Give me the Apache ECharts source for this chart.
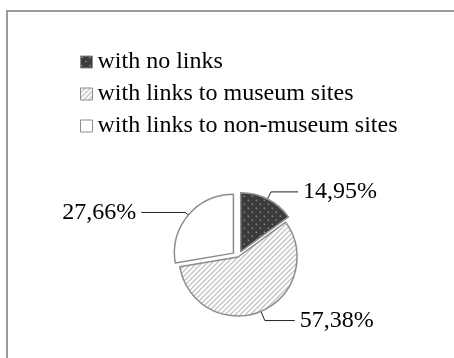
<!DOCTYPE html>
<html>
<head>
<meta charset="utf-8">
<script src="https://cdn.jsdelivr.net/npm/echarts@6/dist/echarts.min.js"></script>
<style>
  html, body { margin: 0; padding: 0; background: #fff; }
  #chart { width: 454px; height: 358px; }
</style>
</head>
<body>
<div id="chart"></div>
<script>
const categories = ['with no links', 'with links to museum sites', 'with links to non-museum sites'];
const shares = [14.95, 57.38, 27.66];
const exploded = [true, false, true];
// leader line lengths per slice: [length, length2]
const leaders = [[8, 27], [10, 30], [4, 44]];

const font = '"Liberation Serif", "Times New Roman", serif';

function dotPattern() {
  const c = document.createElement('canvas');
  c.width = 8; c.height = 8;
  const g = c.getContext('2d');
  g.fillStyle = '#3c3c3c';
  g.fillRect(0, 0, 8, 8);
  g.fillStyle = '#e0e0e0';
  g.fillRect(1, 1, 1, 1);
  g.fillRect(5, 5, 1, 1);
  return c;
}

function hatchPattern() {
  const n = 5;
  const c = document.createElement('canvas');
  c.width = n; c.height = n;
  const g = c.getContext('2d');
  g.fillStyle = '#ffffff';
  g.fillRect(0, 0, n, n);
  g.strokeStyle = '#c4c4c4';
  g.lineWidth = 1.4;
  g.beginPath();
  g.moveTo(0, n); g.lineTo(n, 0);
  g.moveTo(-1, 1); g.lineTo(1, -1);
  g.moveTo(n - 1, n + 1); g.lineTo(n + 1, n - 1);
  g.stroke();
  return c;
}

const fills = [
  { image: dotPattern(), repeat: 'repeat' },
  { image: hatchPattern(), repeat: 'repeat' },
  '#ffffff'
];

const chart = echarts.init(document.getElementById('chart'));

chart.setOption({
  backgroundColor: '#fff',
  animation: false,
  graphic: [{
    type: 'rect',
    shape: { x: 7, y: 11, width: 520, height: 420 },
    style: { fill: 'none', stroke: '#9a9a9a', lineWidth: 2 },
    silent: true
  }],
  legend: {
    orient: 'vertical',
    left: 75,
    top: 45,
    itemWidth: 12,
    itemHeight: 12,
    itemGap: 8,
    icon: 'rect',
    selectedMode: false,
    itemStyle: { borderColor: '#8c8c8c', borderWidth: 1 },
    textStyle: { fontFamily: font, fontSize: 24, lineHeight: 24, color: '#000' },
    data: categories
  },
  series: [{
    type: 'pie',
    center: [238, 257],
    radius: 59,
    startAngle: 90,
    clockwise: true,
    selectedMode: 'multiple',
    selectedOffset: 6,
    emphasis: { disabled: true },
    itemStyle: { borderColor: '#8c8c8c', borderWidth: 1.5 },
    label: {
      show: true,
      position: 'outside',
      fontFamily: font,
      fontSize: 24,
      color: '#000',
      padding: [0, 0, 12, 0],
      formatter: p => p.value.toFixed(2).replace('.', ',') + '%'
    },
    labelLine: {
      show: true,
      lineStyle: { color: '#222', width: 1 }
    },
    data: categories.map((name, i) => ({
      name,
      value: shares[i],
      selected: exploded[i],
      itemStyle: { color: fills[i] },
      labelLine: { length: leaders[i][0], length2: leaders[i][1] }
    }))
  }]
});
</script>
</body>
</html>
